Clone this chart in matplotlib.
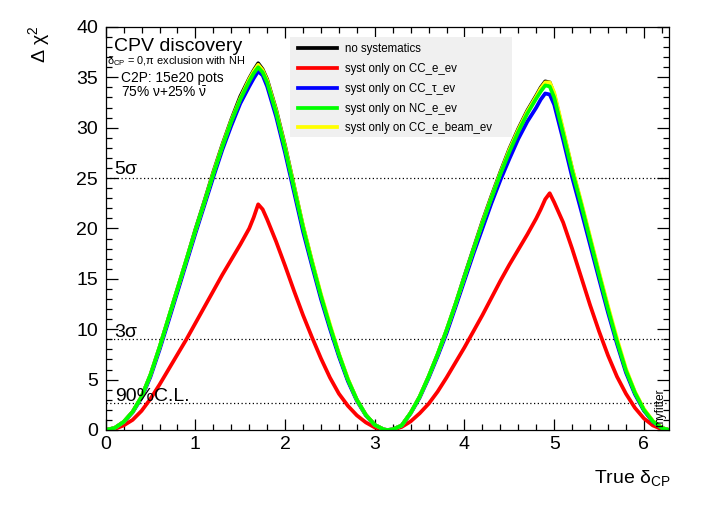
import matplotlib
matplotlib.use("Agg")
import matplotlib.pyplot as plt
from matplotlib.patches import Rectangle
from matplotlib.ticker import MultipleLocator

plt.rcParams['font.family'] = ['Liberation Sans', 'DejaVu Sans']
plt.rcParams['mathtext.fontset'] = 'custom'
plt.rcParams['mathtext.rm'] = 'Liberation Sans'
plt.rcParams['mathtext.it'] = 'Liberation Sans:italic'

# ---- data ----
delta_cp = [0.0, 0.1, 0.2, 0.3, 0.4, 0.5, 0.6, 0.7, 0.8, 0.9, 1.0, 1.1, 1.2, 1.3, 1.4, 1.5, 1.6,
            1.65, 1.7, 1.75,
            1.8, 1.9, 2.0, 2.1, 2.2, 2.3, 2.4, 2.5, 2.6, 2.7, 2.8, 2.9, 3.0, 3.1,
            3.14,
            3.2, 3.3, 3.4, 3.5, 3.6, 3.7, 3.8, 3.9, 4.0, 4.1, 4.2, 4.3, 4.4, 4.5, 4.6, 4.7, 4.8,
            4.85, 4.9, 4.95,
            5.0, 5.1, 5.2, 5.3, 5.4, 5.5, 5.6, 5.7, 5.8, 5.9, 6.0, 6.1, 6.2,
            6.28]

no_syst = [0, 0.2, 0.8, 1.8, 3.3, 5.5, 8.2, 11.1, 14.0, 16.9, 19.9, 22.7, 25.6, 28.3, 30.8, 33.1, 34.9,
           35.7, 36.4, 35.8,
           34.8, 31.8, 28.2, 24.2, 20.2, 16.7, 13.3, 10.3, 7.5, 5.0, 3.0, 1.5, 0.5, 0.05,
           0.0,
           0.05, 0.45, 1.7, 3.3, 5.3, 7.5, 9.9, 12.5, 15.3, 18.0, 20.7, 23.2, 25.6, 27.9, 29.9, 31.7, 33.2,
           34.0, 34.6, 34.5,
           33.3, 29.6, 25.9, 22.5, 19.0, 15.5, 12.1, 8.8, 5.9, 3.7, 2.0, 0.85, 0.2,
           0.0]

syst_cc_e = [0, 0.1, 0.45, 1.0, 1.9, 3.1, 4.5, 6.0, 7.5, 9.0, 10.6, 12.2, 13.8, 15.4, 16.9, 18.4, 20.0,
             21.1, 22.4, 21.9,
             20.9, 18.7, 16.3, 13.8, 11.4, 9.2, 7.1, 5.2, 3.6, 2.4, 1.45, 0.75, 0.25, 0.02,
             0.0,
             0.03, 0.3, 0.85, 1.65, 2.6, 3.8, 5.2, 6.7, 8.2, 9.8, 11.4, 13.1, 14.8, 16.4, 17.9, 19.4, 21.0,
             21.9, 22.9, 23.5,
             22.6, 20.6, 18.0, 15.2, 12.4, 9.8, 7.4, 5.3, 3.6, 2.2, 1.15, 0.45, 0.08,
             0.0]

syst_cc_tau = [0, 0.19, 0.77, 1.74, 3.2, 5.3, 7.95, 10.8, 13.7, 16.6, 19.5, 22.3, 25.1, 27.8, 30.2, 32.4, 34.1,
               34.9, 35.6, 35.2,
               34.1, 31.1, 27.5, 23.6, 19.7, 16.3, 13.0, 10.05, 7.3, 4.85, 2.9, 1.45, 0.48, 0.05,
               0.0,
               0.05, 0.43, 1.65, 3.2, 5.15, 7.3, 9.6, 12.2, 14.85, 17.5, 20.0, 22.5, 24.8, 26.9, 28.9, 30.6, 32.0,
               32.8, 33.4, 33.3,
               32.3, 28.8, 25.1, 21.8, 18.4, 15.0, 11.65, 8.55, 5.7, 3.55, 1.93, 0.82, 0.19,
               0.0]

syst_nc_e = [0, 0.2, 0.8, 1.8, 3.3, 5.5, 8.2, 11.1, 14.0, 16.9, 19.8, 22.6, 25.4, 28.1, 30.6, 32.8, 34.6,
             35.4, 36.0, 35.5,
             34.5, 31.5, 27.9, 24.0, 20.1, 16.6, 13.3, 10.3, 7.5, 5.0, 3.0, 1.5, 0.5, 0.05,
             0.0,
             0.05, 0.45, 1.7, 3.3, 5.3, 7.5, 9.9, 12.5, 15.2, 17.9, 20.5, 23.0, 25.4, 27.6, 29.6, 31.4, 32.9,
             33.6, 34.2, 34.1,
             33.0, 29.4, 25.7, 22.4, 18.9, 15.4, 12.0, 8.8, 5.9, 3.7, 2.0, 0.85, 0.2,
             0.0]

syst_cc_e_beam = [0, 0.2, 0.8, 1.8, 3.3, 5.5, 8.2, 11.1, 14.0, 16.9, 19.8, 22.6, 25.5, 28.2, 30.7, 32.9, 34.8,
                  35.6, 36.25, 35.7,
                  34.7, 31.7, 28.1, 24.2, 20.3, 16.8, 13.5, 10.5, 7.6, 5.1, 3.0, 1.5, 0.5, 0.05,
                  0.0,
                  0.05, 0.45, 1.7, 3.3, 5.3, 7.5, 9.9, 12.5, 15.2, 17.9, 20.6, 23.1, 25.5, 27.8, 29.8, 31.6, 33.1,
                  33.9, 34.5, 34.5,
                  33.5, 29.8, 26.0, 22.7, 19.2, 15.7, 12.3, 9.1, 6.1, 3.8, 2.1, 0.9, 0.22,
                  0.0]

series_labels = ["no systematics", "syst only on CC_e_ev", "syst only on CC_\u03c4_ev",
                 "syst only on NC_e_ev", "syst only on CC_e_beam_ev"]
series_colors = ["#000000", "#ff0000", "#0000ff", "#00ff00", "#ffff00"]
series_zorder = [2.0, 2.1, 2.2, 2.4, 2.3]

cl_levels = [25.0, 9.0, 2.71]
cl_labels = ["5\u03c3", "3\u03c3", "90%C.L."]

x_ticks = [0, 1, 2, 3, 4, 5, 6]
y_ticks = [0, 5, 10, 15, 20, 25, 30, 35, 40]

# ---- figure ----
fig = plt.figure(figsize=(7.06, 5.07), dpi=100)
ax = fig.add_axes([0.1497, 0.1519, 0.7983, 0.7949])

all_series = [no_syst, syst_cc_e, syst_cc_tau, syst_nc_e, syst_cc_e_beam]
handles = []
for vals, lab, col, z in zip(all_series, series_labels, series_colors, series_zorder):
    h, = ax.plot(delta_cp, vals, color=col, lw=2.7, label=lab, zorder=z,
                 solid_joinstyle='round')
    handles.append(h)

for lvl in cl_levels:
    ax.axhline(lvl, color='black', lw=0.9, linestyle=(0, (1, 2)), zorder=1.5)

label_y = [25.4, 9.2, 2.9]
for ly, lab in zip(label_y, cl_labels):
    ax.text(0.10, ly, lab, fontsize=14, ha='left', va='baseline', zorder=3)

ax.set_xlim(0, 6.2832)
ax.set_ylim(0, 40)
ax.set_xticks(x_ticks)
ax.set_yticks(y_ticks)
ax.xaxis.set_minor_locator(MultipleLocator(0.2))
ax.yaxis.set_minor_locator(MultipleLocator(1))
ax.tick_params(which='both', direction='in', top=True, right=True, labelsize=14, width=0.9)
ax.tick_params(axis='x', which='major', length=8, pad=4.5)
ax.tick_params(axis='x', which='minor', length=4)
ax.tick_params(axis='y', which='major', length=8.5, pad=5.5)
ax.tick_params(axis='y', which='minor', length=4.3)
for sp in ax.spines.values():
    sp.set_linewidth(0.9)

# legend background box
ax.add_patch(Rectangle((0.327, 0.726), 0.394, 0.248, transform=ax.transAxes,
                       facecolor='#f0f0f0', edgecolor='none', zorder=3))
leg = ax.legend(handles=handles, loc='upper left', bbox_to_anchor=(0.341, 0.959),
                frameon=False, fontsize=8.3, handlelength=3.4, handletextpad=0.7,
                labelspacing=0.67, borderpad=0, borderaxespad=0)
leg.set_zorder(4)
for lh in leg.get_lines():
    lh.set_linewidth(2.7)

# annotations
ax.text(0.09, 37.6, "CPV discovery", fontsize=14, ha='left', va='baseline', zorder=5)
ax.text(0.015, 36.28, "$\\mathregular{\\delta_{CP}}$ = 0,\u03c0 exclusion with NH",
        fontsize=7.9, ha='left', va='baseline', zorder=5)
ax.text(0.17, 34.5, "C2P: 15e20 pots", fontsize=9.9, ha='left', va='baseline', zorder=5)
ax.text(0.17, 33.0, "75% \u03bd+25% $\\mathregular{\\bar{\\nu}}$", fontsize=9.9,
        ha='left', va='baseline', zorder=5)
ax.text(6.18, 0.3, "myfitter", fontsize=8.5, rotation=90, ha='center', va='bottom', zorder=5)

fig.text(39 / 706, 1 - 25 / 507, "$\\mathregular{\\Delta\\ \\chi^{2}}$", fontsize=14,
         rotation=90, ha='center', va='top')
fig.text(671 / 706, 1 - 483 / 507, "True $\\mathregular{\\delta_{CP}}$", fontsize=14,
         ha='right', va='baseline')

fig.savefig("out.png", dpi=100)
